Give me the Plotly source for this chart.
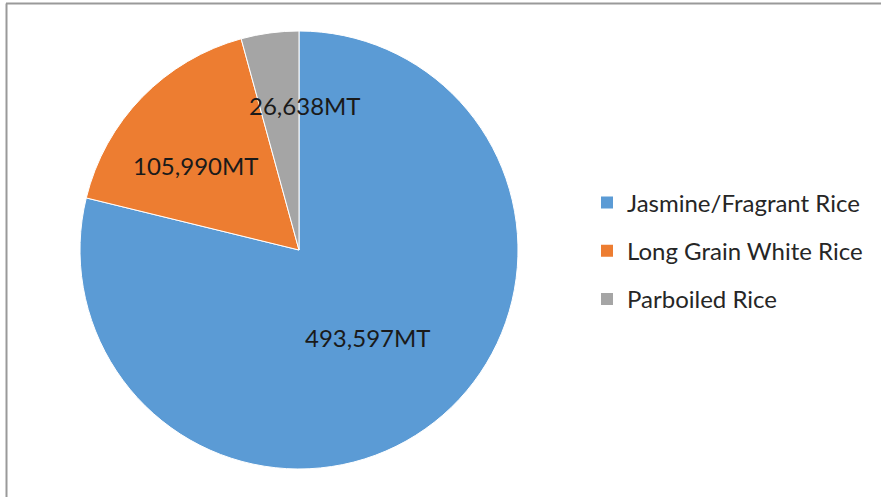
import math
import plotly.graph_objects as go

categories = ["Jasmine/Fragrant Rice", "Long Grain White Rice", "Parboiled Rice"]
values = [493597, 105990, 26638]
colors = ["#5B9BD5", "#ED7D31", "#A5A5A5"]
label_suffix = "MT"

W, H = 881, 497
# pie placement in pixels
cx_px, cy_px, R_px = 299, 250, 219

fig = go.Figure()
fig.add_trace(go.Pie(
    labels=categories,
    values=values,
    sort=False,
    direction="clockwise",
    rotation=0,
    marker=dict(colors=colors, line=dict(color="white", width=1)),
    textinfo="none",
    showlegend=False,
    hoverinfo="label+value",
    domain=dict(x=[(cx_px - R_px) / W, (cx_px + R_px) / W],
                y=[(H - cy_px - R_px) / H, (H - cy_px + R_px) / H]),
))

# legend via dummy traces so vertical gap can match
for i, (c, col) in enumerate(zip(categories, colors)):
    fig.add_trace(go.Scatter(
        x=[None], y=[None], mode="markers", name=c,
        marker=dict(symbol="square", size=11, color=col),
        legendgroup=f"g{i}", showlegend=True,
    ))

# data labels positioned from slice angles
radial = [0.51, 0.61, 0.66]
nudge_deg = [0, -5, 10]
total = sum(values)
cum = 0
for i, v in enumerate(values):
    mid = (cum + v / 2) / total * 360 + nudge_deg[i]
    cum += v
    th = math.radians(mid)
    px = cx_px + radial[i] * R_px * math.sin(th)
    py = cy_px - radial[i] * R_px * math.cos(th)
    fig.add_annotation(
        x=px / W, y=1 - py / H, xref="paper", yref="paper",
        text=f"{v:,}{label_suffix}", showarrow=False,
        font=dict(family="Lato", size=24, color="#1a1a1a"),
        xanchor="center", yanchor="middle",
    )

fig.update_layout(
    width=W, height=H,
    margin=dict(l=0, r=0, t=0, b=0),
    paper_bgcolor="white", plot_bgcolor="white",
    xaxis=dict(visible=False), yaxis=dict(visible=False),
    legend=dict(
        x=587 / W, y=1 - 251 / H, xanchor="left", yanchor="middle",
        font=dict(family="Lato", size=24, color="#262626"),
        tracegroupgap=14, itemsizing="constant",
        bgcolor="rgba(0,0,0,0)",
    ),
    shapes=[
        dict(type="line", xref="paper", yref="paper",
             x0=6 / W, x1=1, y0=1 - 3.5 / H, y1=1 - 3.5 / H,
             line=dict(color="#9a9a9a", width=2)),
        dict(type="line", xref="paper", yref="paper",
             x0=6.5 / W, x1=6.5 / W, y0=0, y1=1 - 3.5 / H,
             line=dict(color="#9a9a9a", width=2)),
    ],
)

fig.write_html("out.html")
